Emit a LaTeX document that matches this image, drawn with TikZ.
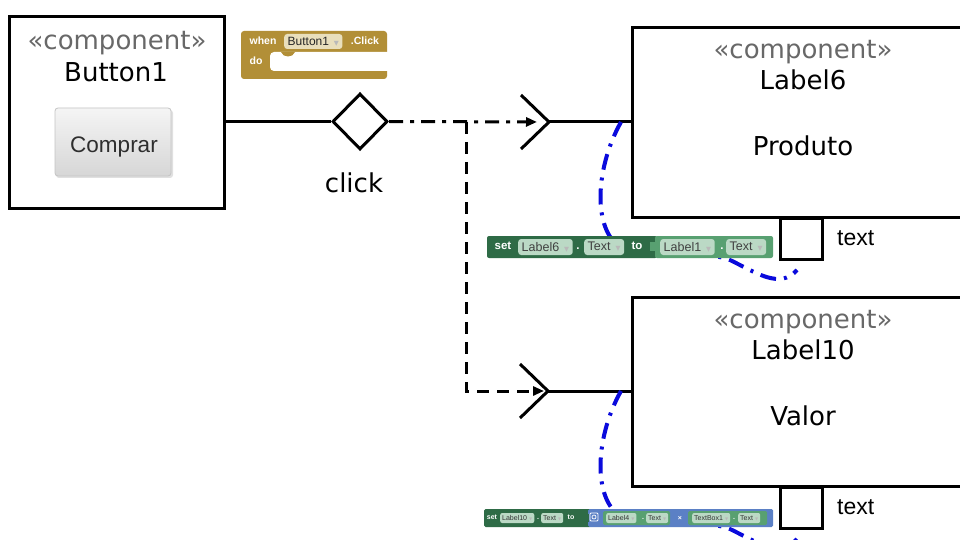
\documentclass[tikz,border=0pt]{standalone}
\usepackage{fontspec}
\setmainfont{DejaVu Sans}
\newfontfamily\arialf{Liberation Sans}
\newfontfamily\dvf{DejaVu Sans}
\usetikzlibrary{shapes.geometric,arrows.meta,calc}

\definecolor{stereogray}{HTML}{686868}
\definecolor{evtolive}{HTML}{B28F37}
\definecolor{evtpill}{HTML}{E9DFBC}
\definecolor{setgreen}{HTML}{2E6B46}
\definecolor{valgreen}{HTML}{58A071}
\definecolor{pillgreen}{HTML}{BBD9C5}
\definecolor{mathblue}{HTML}{5B80C5}
\definecolor{linkblue}{HTML}{0A0ADC}
\definecolor{btnborder}{HTML}{C4C4C4}

% small dropdown marker used inside the block fields
\newcommand\ddmark{\hspace{0.4em}{\dvf\fontsize{6.5}{6.5}\selectfont\textcolor{white!45!gray}{▼}}}
\newcommand\ddmarksmall{\hspace{0.3em}{\dvf\fontsize{4}{4}\selectfont\textcolor{white!45!gray}{▼}}}

\begin{document}
\begin{tikzpicture}[x=1pt,y=-1pt,
  comp/.style={draw, line width=3pt, rectangle, inner sep=0pt},
  stereo/.style={text=stereogray, font=\fontsize{26}{30}\selectfont, inner sep=0pt, anchor=base},
  cname/.style={font=\fontsize{26}{30}\selectfont, inner sep=0pt, anchor=base},
  wire/.style={line width=3pt},
  dashdotwire/.style={line width=3pt, dash pattern=on 14pt off 7pt on 4pt off 7pt},
  dashwire/.style={line width=3pt, dash pattern=on 12pt off 8pt},
  tipped/.style={-{Triangle[length=11pt,width=9pt]}},
  link/.style={linkblue, line width=4pt, dash pattern=on 16pt off 8pt on 3pt off 8pt},
  port/.style={draw, line width=3pt, minimum width=42pt, minimum height=41pt, inner sep=0pt},
  portlabel/.style={font=\arialf\fontsize{23}{26}\selectfont, inner sep=0pt, anchor=base west},
  blktext/.style={text=white, font=\arialf\bfseries\fontsize{10.5}{11}\selectfont, inner sep=0pt},
  evfield/.style={fill=evtpill, rounded corners=3pt, inner xsep=3.5pt, inner ysep=0pt,
    minimum height=15pt, anchor=west, font=\arialf\fontsize{12}{12}\selectfont, text=black!85},
  setfield/.style={fill=pillgreen, rounded corners=3pt, inner xsep=3.5pt, inner ysep=0pt,
    minimum height=16pt, anchor=west, font=\arialf\fontsize{12.5}{12.5}\selectfont, text=black!75},
  settext/.style={text=white, font=\arialf\bfseries\fontsize{11.5}{11.5}\selectfont, inner sep=0pt},
  tinyfield/.style={fill=pillgreen, rounded corners=2pt, inner xsep=2pt, inner ysep=0pt,
    minimum height=10pt, anchor=west, font=\arialf\fontsize{7}{7}\selectfont, text=black!80},
  tinytext/.style={text=white, font=\arialf\bfseries\fontsize{7}{7}\selectfont, inner sep=0pt}
]
\useasboundingbox (0,0) rectangle (960,540);
\fill[white] (0,0) rectangle (960,540);
\clip (0,0) rectangle (960,540);

% ---------- Button1 component ----------
\node[comp, minimum width=215pt, minimum height=191pt] (btn) at (116.5,112.5) {};
\node[stereo] (btnst) at (117,50) {«component»};
\node[cname] (btnnm) at (116,82) {Button1};
\fill[black!12, rounded corners=3pt] (56,110) rectangle (173,178);
\node[draw=btnborder, line width=0.8pt, rounded corners=3pt, top color=white!96!black,
      bottom color=white!84!black, minimum width=116pt, minimum height=68pt,
      inner sep=0pt] (buy) at (113,142) {};
\node[font=\arialf\fontsize{22.5}{24}\selectfont, text=black!82, inner sep=0pt, anchor=base]
      (buytxt) at (114,153) {Comprar};

% ---------- event port ----------
\node[draw, diamond, line width=3pt, minimum width=55pt, minimum height=56pt, inner sep=0pt]
      (dia) at (360,121.5) {};
\node[cname] (clk) at (354,193) {click};
\draw[wire] (dia.west) -- (dia.west -| btn.east);

% ---------- Label components ----------
\node[comp, minimum width=350pt, minimum height=189pt] (lbl6) at (807,122.5) {};
\node[stereo] (l6st) at (803,59) {«component»};
\node[cname] (l6nm) at (803,90) {Label6};
\node[cname] (l6tx) at (803,156) {Produto};
\node[port, anchor=north] (p6) at (801,217) {};
\node[portlabel] (t6) at (837,245) {text};

\node[comp, minimum width=350pt, minimum height=189pt] (lbl10) at (807,391.5) {};
\node[stereo] (l10st) at (803,328) {«component»};
\node[cname] (l10nm) at (803,359) {Label10};
\node[cname] (l10tx) at (803,425) {Valor};
\node[port, anchor=north] (p10) at (801,486) {};
\node[portlabel] (t10) at (837,514) {text};

% ---------- required interfaces ----------
\coordinate (req1) at (549,122);
\coordinate (req2) at (548,391);
\coordinate (br) at (466,122);
\draw[wire] ($(req1)+(-28,-27)$) -- (req1) -- ($(req1)+(-28,27)$);
\draw[wire] ($(req2)+(-28,-27)$) -- (req2) -- ($(req2)+(-28,27)$);
\draw[wire] (req1) -- (req1 -| lbl6.west);
\draw[wire] (req2) -- (req2 -| lbl10.west);

% ---------- event flow ----------
\draw[dashdotwire, tipped, shorten >=12pt] (dia.east) -- (req1);
\draw[dashwire, tipped, shorten >=4pt] (br) |- (req2);

% ---------- property links ----------
\coordinate (a6) at (621,122);
\coordinate (b6) at (797,270);
\coordinate (a10) at (621,391);
\coordinate (b10) at (797,539);
\draw[link] (a6) .. controls (594,170) and (592,235) .. (625,250)
  .. controls (680,258) and (712,252) .. (730,260)
  .. controls (755,272) and (780,290) .. (b6);
\draw[link] (a10) .. controls (594,439) and (592,504) .. (625,519)
  .. controls (680,527) and (712,521) .. (730,529)
  .. controls (755,541) and (780,559) .. (b10);

% ---------- event handler block ----------
\fill[evtolive, rounded corners=3pt] (241,31) rectangle (387,79);
\fill[white, rounded corners=4pt] (270,52) rectangle (398,71);
\fill[evtolive] (281,52) .. controls (283,58) and (293,58) .. (295,52) -- cycle;
\node[blktext] (bw) at (263,41) {when};
\node[evfield] (bf) at (284,41.5) {Button1\ddmark};
\node[blktext] (bc) at (365,41) {.Click};
\node[blktext] (bd) at (256,61) {do};

% ---------- set Label6.Text block ----------
\fill[setgreen, rounded corners=2pt] (487,236) rectangle (657,258);
\fill[valgreen, rounded corners=2pt] (655,236) rectangle (773,258);
\fill[valgreen] (650,242) rectangle (656,251);
\node[settext] (s6) at (503,246) {set};
\node[setfield] (s6a) at (518,247) {Label6\ddmark};
\node[settext] (s6d) at (578,249) {.};
\node[setfield] (s6b) at (584,247) {Text\ddmark};
\node[settext] (s6t) at (637,246) {to};
\node[setfield] (s6c) at (660,247) {Label1\ddmark};
\node[settext] (s6e) at (722,249) {.};
\node[setfield] (s6f) at (726,247) {Text\ddmark};

% ---------- set Label10.Text block ----------
\fill[setgreen, rounded corners=1.5pt] (484,509) rectangle (591,527);
\fill[mathblue, rounded corners=1.5pt] (588,509) rectangle (773,527);
\fill[setgreen] (584,514) rectangle (589,522);
\node[tinytext] (s10) at (492,517.5) {set};
\node[tinyfield] (s10a) at (500,518) {Label10\ddmarksmall};
\node[tinytext] (s10d) at (538,519) {.};
\node[tinyfield] (s10b) at (541,518) {Text\ddmarksmall};
\node[tinytext] (s10t) at (571,517.5) {to};
\node[draw=white, line width=0.8pt, rounded corners=1pt, minimum size=8pt, inner sep=0pt]
      (gear) at (594,517) {};
\draw[white, line width=0.7pt] (gear.center) circle (2pt);
\fill[valgreen, rounded corners=1.5pt] (603,511) rectangle (670,525);
\node[tinyfield] (s10c) at (606,518) {Label4\ddmarksmall};
\node[tinytext] (s10e) at (643,519) {.};
\node[tinyfield] (s10f) at (646,518) {Text\ddmarksmall};
\node[tinytext] (s10x) at (680,518) {×};
\fill[valgreen, rounded corners=1.5pt] (688,511) rectangle (767,525);
\node[tinyfield] (s10g) at (692,518) {TextBox1\ddmarksmall};
\node[tinytext] (s10h) at (734,519) {.};
\node[tinyfield] (s10i) at (738,518) {Text\ddmarksmall};
\end{tikzpicture}
\end{document}
